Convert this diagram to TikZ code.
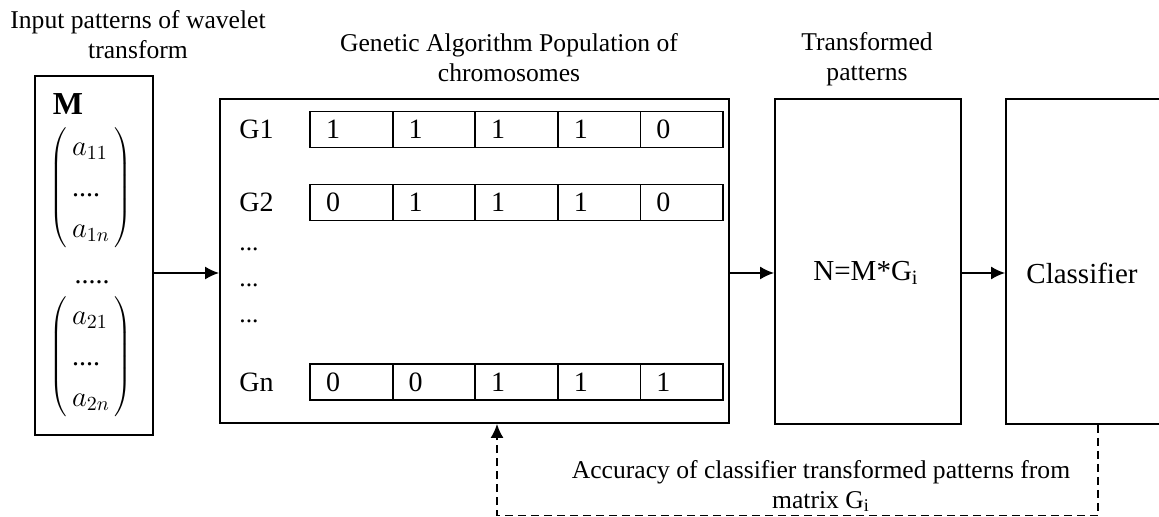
\documentclass[tikz,border=0pt]{standalone}
\usepackage{fontspec}
\setmainfont{Liberation Serif}
\usetikzlibrary{arrows.meta}

\tikzset{
  box/.style = {draw, line width = .9pt, inner sep = 0pt},
  cell/.style = {draw, line width = .9pt, text width = 25.3pt, inner xsep = 8pt, inner ysep = 0pt,
    minimum height = 18pt, align = left, font = \fontsize{14}{16}\selectfont},
  caption/.style = {align = center, font = \fontsize{12.8}{15}\selectfont},
  boxtext/.style = {font = \fontsize{14.5}{17}\selectfont},
  vector/.style = {inner sep = 0pt, font = \fontsize{14}{16}\selectfont},
  flow/.style = {line width = .9pt, -{Latex[length = 7pt, width = 6.5pt]}},
  feedback/.style = {flow, dash pattern = on 4pt off 2.5pt},
}

\begin{document}
\begin{tikzpicture}[x = .5pt, y = -.5pt]
  \useasboundingbox (0, 0) rectangle (1159, 517);
  \clip (0, 0) rectangle (1159, 517);
  \coordinate (flow) at (0, 273);

  % captions
  \node[caption] (capin) at (138, 35) {Input patterns of wavelet\\transform};
  \node[caption] (capga) at (509, 57.5) {Genetic Algorithm Population of\\chromosomes};
  \node[caption] (capn) at (867, 59.5) {Transformed\\patterns};

  % input matrix
  \node[box, minimum width = 59pt, minimum height = 179.5pt] (mbox) at (94, 255.5) {};
  \node[anchor = base, inner sep = 0pt, font = \fontsize{16}{18}\selectfont\bfseries] (mname) at (68, 115) {M};
  \node[vector] (veca) at (91, 188)
    {$\def\arraystretch{1.28}\left(\begin{array}{@{\,}l@{\,}} a_{11}\\ \mbox{....}\\ a_{1n}\end{array}\right)$};
  \node[vector, anchor = base] (vgap) at (92, 284) {.....};
  \node[vector] (vecb) at (91, 357)
    {$\def\arraystretch{1.28}\left(\begin{array}{@{\,}l@{\,}} a_{21}\\ \mbox{....}\\ a_{2n}\end{array}\right)$};

  % population
  \node[box, minimum width = 254.5pt, minimum height = 162pt] (ga) at (474.5, 261) {};
  \foreach \row/\ry/\bits in {1/129.5/{1,1,1,1,0}, 2/202.5/{0,1,1,1,0}, n/382/{0,0,1,1,1}} {
    \node[anchor = west, inner sep = 0pt, font = \fontsize{14}{16}\selectfont] (g\row) at (239, \ry) {G\row};
    \foreach \b [count = \k from 0] in \bits
      \node[cell] (c\row\k) at ({351.3 + 82.6*\k}, \ry) {\b};
  }
  \foreach \y [count = \i] in {251, 287, 323}
    \node[anchor = base west, inner sep = 0pt, font = \fontsize{12.8}{15}\selectfont] (dots\i) at (239, \y) {...};

  % transformed patterns and classifier
  \node[box, minimum width = 93pt, minimum height = 162.5pt] (nbox) at (868, 261.5) {};
  \node[boxtext] (ntext) at (866, 273) {N=M*G\textsubscript{i}};
  \node[box, minimum width = 87pt, minimum height = 162.5pt] (cls) at (1093, 261.5) {};
  \node[boxtext, anchor = west, inner sep = 0pt] (clstext) at (1026, 273) {Classifier};

  \draw[flow] (mbox.east |- flow) -- (ga.west |- flow);
  \draw[flow] (ga.east |- flow) -- (nbox.west |- flow);
  \draw[flow] (nbox.east |- flow) -- (cls.west |- flow);

  % feedback
  \coordinate (fbright) at (1098, 515.5);
  \coordinate (fbleft) at (497, 515.5);
  \draw[feedback] (cls.south -| fbright) -- (fbright) -- (fbleft) -- (ga.south -| fbleft);
  \node[caption] (capfb) at (821, 486) {Accuracy of classifier transformed patterns from\\matrix G\textsubscript{i}};
\end{tikzpicture}
\end{document}
